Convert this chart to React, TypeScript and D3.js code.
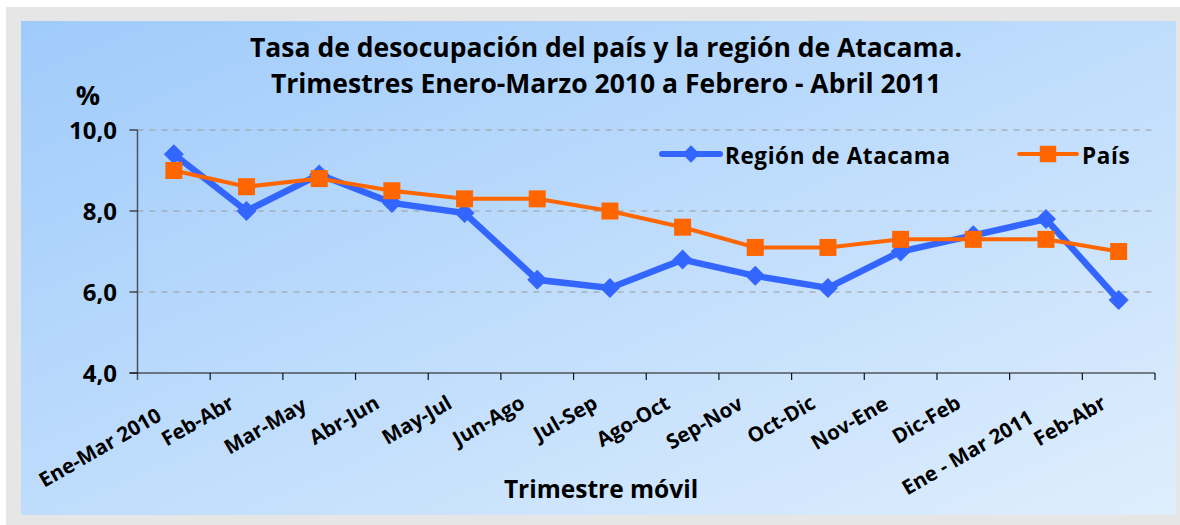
import React, { useEffect, useRef } from 'react';
import * as d3 from 'd3';

const categories = [
  'Ene-Mar 2010', 'Feb-Abr', 'Mar-May', 'Abr-Jun', 'May-Jul', 'Jun-Ago', 'Jul-Sep',
  'Ago-Oct', 'Sep-Nov', 'Oct-Dic', 'Nov-Ene', 'Dic-Feb', 'Ene - Mar 2011', 'Feb-Abr ',
];
const atacama = [9.4, 8.0, 8.9, 8.2, 7.95, 6.3, 6.1, 6.8, 6.4, 6.1, 7.0, 7.4, 7.8, 5.8];
const pais = [9.0, 8.6, 8.8, 8.5, 8.3, 8.3, 8.0, 7.6, 7.1, 7.1, 7.3, 7.3, 7.3, 7.0];
const yTicks = [4, 6, 8, 10];
const titleLines = [
  'Tasa de desocupación del país y la región de Atacama.',
  'Trimestres Enero-Marzo 2010 a Febrero - Abril 2011',
];

const BLUE = '#3366ff';
const ORANGE = '#ff6600';
const FONT = '"Open Sans", "DejaVu Sans", sans-serif';

export default function App() {
  const ref = useRef<SVGSVGElement>(null);

  useEffect(() => {
    const svg = d3.select(ref.current);
    svg.selectAll('*').remove();

    const margin = { left: 137.5, right: 1155, top: 130, bottom: 373 };

    const defs = svg.append('defs');
    const grad = defs.append('linearGradient')
      .attr('id', 'bg')
      .attr('x1', '0%').attr('y1', '0%')
      .attr('x2', '100%').attr('y2', '100%');
    grad.append('stop').attr('offset', '0%').attr('stop-color', '#9fcbfb');
    grad.append('stop').attr('offset', '100%').attr('stop-color', '#dfeefd');

    // frame
    svg.append('rect').attr('x', 6).attr('y', 7).attr('width', 1174).attr('height', 518).attr('fill', '#e6e6e6');
    svg.append('rect').attr('x', 21).attr('y', 21).attr('width', 1155).attr('height', 494).attr('fill', 'url(#bg)');

    const x = d3.scaleBand().domain(categories).range([margin.left, margin.right]);
    const y = d3.scaleLinear().domain([4, 10]).range([margin.bottom, margin.top]);
    const cx = (i: number) => (x(categories[i]) as number) + x.bandwidth() / 2;

    // title
    svg.append('g').selectAll('text').data(titleLines).enter().append('text')
      .attr('x', 606)
      .attr('y', (d, i) => 57 + i * 36)
      .attr('text-anchor', 'middle')
      .style('font-family', FONT)
      .style('font-weight', 700)
      .style('font-size', '26.5px')
      .text((d) => d);

    svg.append('text')
      .attr('x', 88).attr('y', 105)
      .attr('text-anchor', 'middle')
      .style('font-family', FONT).style('font-weight', 700).style('font-size', '27px')
      .text('%');

    // grid
    svg.append('g').selectAll('line').data(yTicks.filter((t) => t > 4)).enter().append('line')
      .attr('x1', margin.left).attr('x2', margin.right)
      .attr('y1', (d) => y(d)).attr('y2', (d) => y(d))
      .attr('stroke', '#9a9a9a').attr('stroke-dasharray', '6,6').attr('stroke-width', 1);

    // y axis
    svg.append('line')
      .attr('x1', margin.left).attr('x2', margin.left)
      .attr('y1', margin.top).attr('y2', margin.bottom + 7)
      .attr('stroke', '#4a5260').attr('stroke-width', 1.5);
    const yg = svg.append('g');
    yg.selectAll('line').data(yTicks).enter().append('line')
      .attr('x1', margin.left - 8).attr('x2', margin.left)
      .attr('y1', (d) => y(d)).attr('y2', (d) => y(d))
      .attr('stroke', '#222').attr('stroke-width', 1.2);
    yg.selectAll('text').data(yTicks).enter().append('text')
      .attr('x', 117).attr('y', (d) => y(d) + 9)
      .attr('text-anchor', 'end')
      .style('font-family', FONT).style('font-weight', 700).style('font-size', '24px')
      .text((d) => d3.format('.1f')(d).replace('.', ','));

    // x axis
    svg.append('line')
      .attr('x1', margin.left - 8).attr('x2', margin.right)
      .attr('y1', margin.bottom).attr('y2', margin.bottom)
      .attr('stroke', '#111').attr('stroke-width', 1.2);
    const bounds = categories.map((c) => x(c) as number).concat([margin.right]);
    svg.append('g').selectAll('line').data(bounds.slice(1)).enter().append('line')
      .attr('x1', (d) => d).attr('x2', (d) => d)
      .attr('y1', margin.bottom).attr('y2', margin.bottom + 7)
      .attr('stroke', '#111').attr('stroke-width', 1.2);
    const labels = svg.append('g').selectAll('text').data(categories).enter().append('text')
      .attr('text-anchor', 'end')
      .style('font-family', FONT).style('font-weight', 700).style('font-size', '20.5px')
      .text((d) => d.trim());
    // long labels sit a little lower in the original
    labels.attr('transform', function (d, i) {
      const len = (this as SVGTextElement).getComputedTextLength();
      const dy = Math.max(0, len - 80) * 0.22;
      return `translate(${cx(i) - 11},${margin.bottom + 34 + dy}) rotate(-30)`;
    });

    svg.append('text')
      .attr('x', 601).attr('y', 498)
      .attr('text-anchor', 'middle')
      .style('font-family', FONT).style('font-weight', 700).style('font-size', '24.5px')
      .text('Trimestre móvil');

    // series
    const line = d3.line<number>().x((d, i) => cx(i)).y((d) => y(d));
    svg.append('path').datum(atacama)
      .attr('d', line).attr('fill', 'none').attr('stroke', BLUE).attr('stroke-width', 6.5);
    svg.append('g').selectAll('path').data(atacama).enter().append('path')
      .attr('d', d3.symbol(d3.symbolSquare, 200))
      .attr('transform', (d, i) => `translate(${cx(i)},${y(d)}) rotate(45)`)
      .attr('fill', BLUE);

    svg.append('path').datum(pais)
      .attr('d', line).attr('fill', 'none').attr('stroke', ORANGE).attr('stroke-width', 4);
    svg.append('g').selectAll('rect').data(pais).enter().append('rect')
      .attr('x', (d, i) => cx(i) - 8.5).attr('y', (d) => y(d) - 8.5)
      .attr('width', 17).attr('height', 17)
      .attr('fill', ORANGE);

    // legend
    const legend = [
      { name: 'Región de Atacama', color: BLUE, x0: 662, width: 6, shape: 'diamond', area: 150 },
      { name: 'País', color: ORANGE, x0: 1019, width: 4, shape: 'square', area: 270 },
    ];
    const lg = svg.append('g').selectAll('g').data(legend).enter().append('g')
      .attr('transform', (d) => `translate(${d.x0},154)`);
    lg.append('line')
      .attr('x1', 0).attr('x2', 58).attr('y1', 0).attr('y2', 0)
      .attr('stroke', (d) => d.color).attr('stroke-width', (d) => d.width)
      .attr('stroke-linecap', 'round');
    lg.append('path')
      .attr('d', (d) => d3.symbol(d3.symbolSquare, d.area)())
      .attr('transform', (d) => `translate(29,0) rotate(${d.shape === 'diamond' ? 45 : 0})`)
      .attr('fill', (d) => d.color);
    lg.append('text')
      .attr('x', 63).attr('y', 9.5)
      .style('font-family', FONT).style('font-weight', 700).style('font-size', '22.5px')
      .style('letter-spacing', '0.6px')
      .text((d) => d.name);
  }, []);

  return (
    <svg ref={ref} width={1180} height={525}
      style={{ position: 'absolute', left: 0, top: 0, background: '#fff' }} />
  );
}
